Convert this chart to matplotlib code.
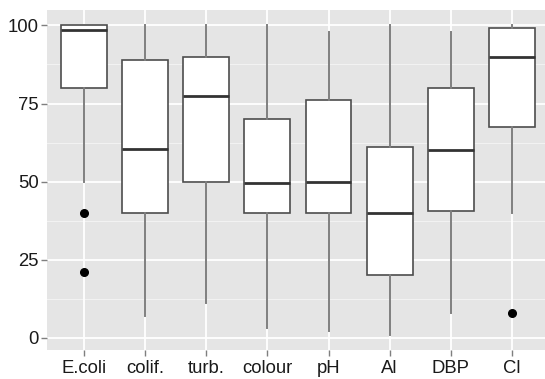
import matplotlib
matplotlib.use('Agg')
import matplotlib.pyplot as plt

# boxplot summary values
params   = ['E.coli', 'colif.', 'turb.', 'colour', 'pH', 'Al', 'DBP', 'Cl']
whis_lo  = [50, 7, 11, 3, 2, 1, 8, 40]
q1       = [80, 40, 49.7, 40, 40, 20, 40.7, 67.5]
medians  = [98.5, 60.5, 77.5, 49.5, 50, 40, 60, 90]
q3       = [100, 89, 90, 70, 76.2, 61, 80, 99.2]
whis_hi  = [100, 100, 100, 100, 97.8, 100, 97.8, 100]
outliers = [[40, 21], [], [], [], [], [], [], [8]]

plt.rcParams['font.family'] = ['Liberation Sans', 'DejaVu Sans']

stats = []
for i, name in enumerate(params):
    stats.append({'label': name, 'whislo': whis_lo[i], 'q1': q1[i],
                  'med': medians[i], 'q3': q3[i], 'whishi': whis_hi[i],
                  'fliers': outliers[i]})

fig = plt.figure(figsize=(5.45, 3.79), dpi=100)
ax = fig.add_axes([47 / 545, 29 / 379, 498 / 545, 340 / 379])
ax.set_facecolor('#E5E5E5')

# grid, ggplot style
for v in [12.5, 37.5, 62.5, 87.5]:
    ax.axhline(v, color='#F2F2F2', lw=0.8, zorder=0)
for v in [0, 25, 50, 75, 100]:
    ax.axhline(v, color='white', lw=1.3, zorder=0)
for x in range(1, len(params) + 1):
    ax.axvline(x, color='white', lw=1.3, zorder=0)

edge = '#4D4D4D'
ax.bxp(stats, positions=range(1, len(params) + 1), widths=0.75,
       showcaps=False, patch_artist=True,
       boxprops=dict(facecolor='white', edgecolor=edge, linewidth=1.2),
       medianprops=dict(color='#333333', linewidth=2.0),
       whiskerprops=dict(color='#7F7F7F', linewidth=1.4),
       flierprops=dict(marker='o', markerfacecolor='black',
                       markeredgecolor='black', markersize=5.5),
       zorder=2)

ax.set_xlim(0.395, 8.54)
ax.set_ylim(-3.95, 104.95)
ax.set_yticks([0, 25, 50, 75, 100])
ax.tick_params(axis='both', colors='#7F7F7F', length=4, width=1,
               labelsize=13.3, labelcolor='#1A1A1A')
ax.tick_params(axis='y', pad=2)
ax.tick_params(axis='x', pad=3)
for s in ax.spines.values():
    s.set_visible(False)

fig.savefig('out.png', dpi=100)
